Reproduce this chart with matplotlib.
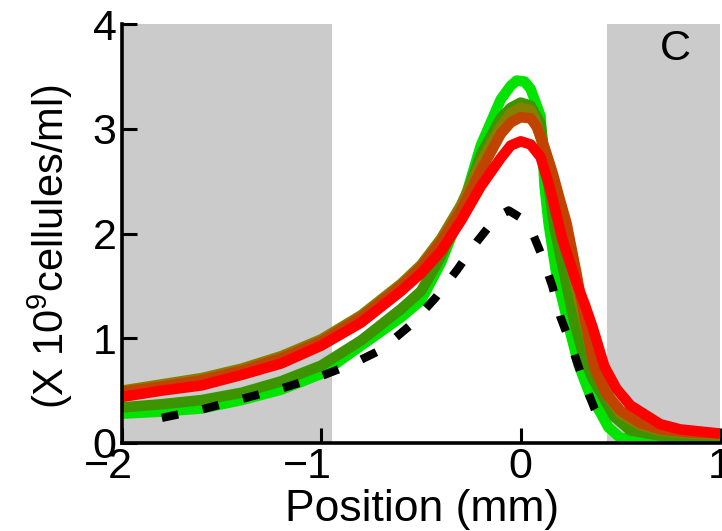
import matplotlib
matplotlib.use("Agg")
import matplotlib.pyplot as plt
from matplotlib.transforms import ScaledTranslation

plt.rcParams['font.family'] = ['Liberation Sans', 'DejaVu Sans']
plt.rcParams['mathtext.fontset'] = 'custom'
plt.rcParams['mathtext.rm'] = 'Liberation Sans'
plt.rcParams['mathtext.it'] = 'Liberation Sans'

# Cell density profiles (x in mm, density in 10^9 cells/ml)
x_green = [-2.0, -1.8, -1.6, -1.4, -1.2, -1.0, -0.8, -0.6, -0.5, -0.4, -0.3, -0.2,
           -0.1, -0.05, -0.02, 0.02, 0.05, 0.1, 0.12, 0.14, 0.18, 0.21, 0.25, 0.29,
           0.35, 0.40, 0.44, 0.5, 0.6, 0.8, 1.0]
y_green = [0.28, 0.30, 0.33, 0.41, 0.51, 0.66, 0.93, 1.20, 1.36, 1.72, 2.20, 2.84,
           3.28, 3.41, 3.46, 3.45, 3.38, 3.12, 2.45, 2.10, 1.60, 1.36, 1.05, 0.75,
           0.45, 0.29, 0.15, 0.05, 0.03, 0.03, 0.03]

x_dkgreen = [-2.0, -1.8, -1.6, -1.4, -1.2, -1.0, -0.8, -0.6, -0.5, -0.4, -0.3, -0.2,
             -0.1, -0.05, 0.0, 0.05, 0.1, 0.13, 0.17, 0.22, 0.27, 0.32, 0.36, 0.41,
             0.47, 0.55, 0.7, 1.0]
y_dkgreen = [0.34, 0.37, 0.41, 0.48, 0.59, 0.74, 0.98, 1.28, 1.45, 1.78, 2.22, 2.75,
             3.10, 3.20, 3.25, 3.22, 3.05, 2.60, 2.05, 1.60, 1.15, 0.80, 0.62, 0.45,
             0.25, 0.12, 0.07, 0.05]

x_olive = [-2.0, -1.8, -1.6, -1.4, -1.2, -1.0, -0.8, -0.6, -0.5, -0.4, -0.3, -0.2,
           -0.1, -0.05, 0.0, 0.05, 0.08, 0.12, 0.16, 0.2, 0.25, 0.3, 0.35, 0.4,
           0.45, 0.5, 0.6, 0.7, 0.85, 1.0]
y_olive = [0.50, 0.56, 0.62, 0.71, 0.83, 0.99, 1.22, 1.52, 1.70, 1.95, 2.27, 2.68,
           3.02, 3.15, 3.20, 3.18, 3.05, 2.78, 2.48, 2.15, 1.72, 1.30, 0.90, 0.62,
           0.42, 0.28, 0.17, 0.12, 0.09, 0.08]

x_brown = [-2.0, -1.8, -1.6, -1.4, -1.2, -1.0, -0.8, -0.6, -0.5, -0.4, -0.3, -0.2,
           -0.1, -0.05, 0.0, 0.05, 0.08, 0.12, 0.16, 0.2, 0.23, 0.28, 0.32, 0.37,
           0.43, 0.5, 0.6, 0.7, 0.85, 1.0]
y_brown = [0.49, 0.54, 0.60, 0.69, 0.81, 0.97, 1.20, 1.50, 1.68, 1.92, 2.22, 2.60,
           2.95, 3.06, 3.11, 3.10, 3.02, 2.82, 2.58, 2.30, 2.10, 1.62, 1.20, 0.72,
           0.47, 0.31, 0.19, 0.13, 0.10, 0.09]

x_red = [-2.0, -1.8, -1.6, -1.4, -1.2, -1.0, -0.8, -0.6, -0.5, -0.4, -0.3, -0.2,
         -0.1, -0.05, 0.0, 0.05, 0.1, 0.15, 0.21, 0.28, 0.32, 0.36, 0.42, 0.48,
         0.55, 0.6, 0.7, 0.8, 0.9, 1.0]
y_red = [0.44, 0.50, 0.55, 0.65, 0.76, 0.93, 1.15, 1.45, 1.62, 1.83, 2.12, 2.45,
         2.72, 2.84, 2.88, 2.85, 2.73, 2.41, 1.94, 1.53, 1.33, 1.11, 0.73, 0.52,
         0.36, 0.30, 0.18, 0.13, 0.11, 0.09]

x_black = [-1.8, -1.6, -1.4, -1.2, -1.0, -0.85, -0.7, -0.55, -0.43, -0.32, -0.22,
           -0.12, -0.06, 0.0, 0.05, 0.11, 0.16, 0.2, 0.26, 0.31, 0.37, 0.40]
y_black = [0.24, 0.32, 0.42, 0.52, 0.64, 0.75, 0.89, 1.13, 1.38, 1.65, 1.92,
           2.16, 2.22, 2.15, 2.05, 1.77, 1.49, 1.20, 0.90, 0.62, 0.33, 0.22]

# Shaded (grey) zones of the channel
shade_zones = [(-2.0, -0.946), (0.434, 1.0)]

xticks = [-2, -1, 0, 1]
yticks = [0, 1, 2, 3, 4]

fig = plt.figure(figsize=(7.22, 5.31), dpi=100)
W, H = 722, 531
ax = fig.add_axes([122 / W, 1 - 443 / H, (720 - 122) / W, (443 - 24) / H])

for x0, x1 in shade_zones:
    ax.axvspan(x0, x1, color='#cbcbcb', lw=0, zorder=0)

lw = 7.6
kw = dict(lw=lw, solid_joinstyle='round', solid_capstyle='butt')
ax.plot(x_green, y_green, color='#00e400', zorder=2, **kw)
ax.plot(x_dkgreen, y_dkgreen, color='#3c9400', zorder=3, **kw)
ax.plot(x_olive, y_olive, color='#858000', zorder=4, **kw)
ax.plot(x_brown, y_brown, color='#c04400', zorder=5, **kw)
ax.plot(x_red, y_red, color='#ff0000', zorder=6, **kw)
ax.plot(x_black, y_black, color='black', lw=6.0, dashes=(2.0, 3.0),
        dash_capstyle='butt', zorder=7)

ax.set_xlim(-2, 1)
ax.set_ylim(0, 4)
ax.set_xticks(xticks)
ax.set_yticks(yticks)
ax.set_xticklabels(['\u2212%d' % -t if t < 0 else str(t) for t in xticks])

for s in ['top', 'right']:
    ax.spines[s].set_visible(False)
for s in ['left', 'bottom']:
    ax.spines[s].set_linewidth(2.6)
    ax.spines[s].set_zorder(10)

ax.tick_params(axis='both', direction='in', length=11, width=2.2,
               labelsize=31, colors='black')
ax.tick_params(axis='x', pad=3)
ax.tick_params(axis='y', pad=4)

# negative labels sit a little to the left of their ticks
for t, lab in zip(xticks, ax.get_xticklabels()):
    if t < 0:
        lab.set_transform(lab.get_transform()
                          + ScaledTranslation(-0.14, 0, fig.dpi_scale_trans))

ax.text(0.775, 3.76, 'C', fontsize=31, ha='center', va='center', zorder=8)

fig.text(422 / W, 1 - 521 / H, 'Position (mm)', fontsize=32,
         ha='center', va='baseline')
fig.text(50 / W, 1 - 247 / H, r'(X 10$^{9}$cellules/ml)', fontsize=30,
         rotation=90, ha='center', va='center')

fig.savefig('out.png', dpi=100)
